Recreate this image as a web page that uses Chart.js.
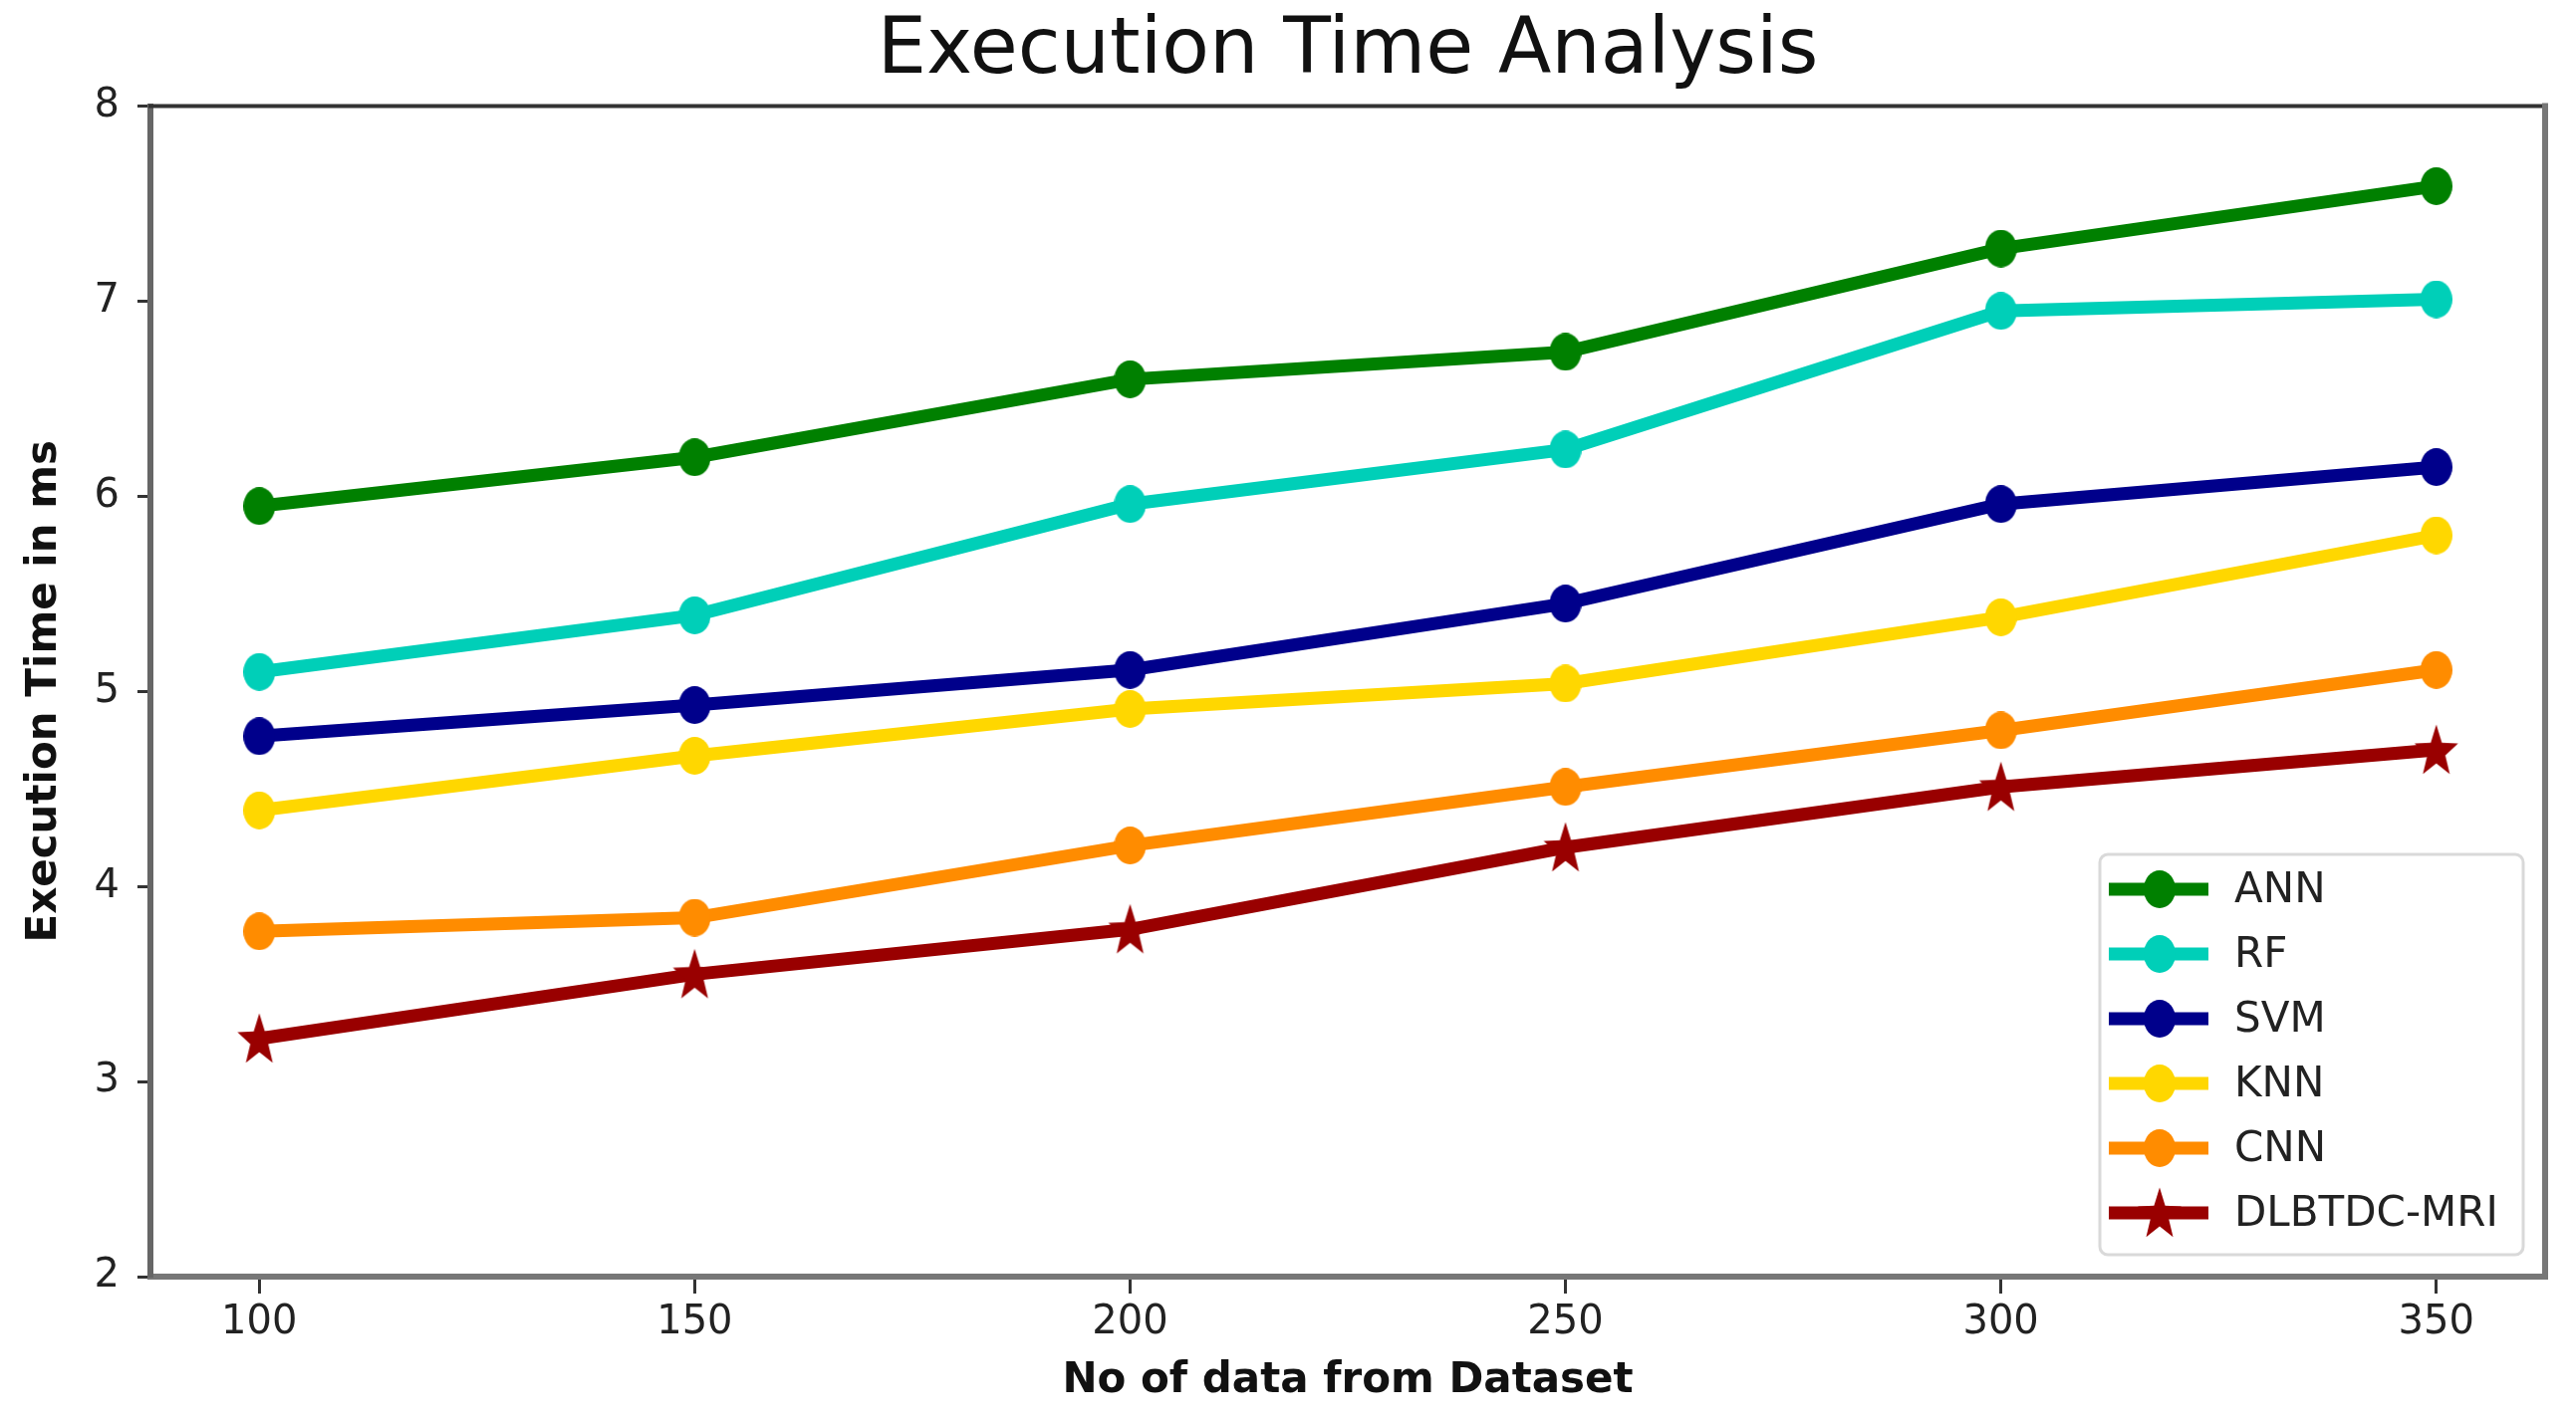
<!DOCTYPE html>
<html lang="en">
<head>
<meta charset="UTF-8">
<title>Execution Time Analysis</title>
<style>
    html, body { margin: 0; padding: 0; background: #fff; }
    #wrap { width: 2586px; height: 1429px; }
</style>
</head>
<body>
<div id="wrap"><canvas id="chart"></canvas></div>
<script src="https://cdn.jsdelivr.net/npm/chart.js"></script>
<script>
// data
const dataSizes = [100, 150, 200, 250, 300, 350];
const yTicks = [2, 3, 4, 5, 6, 7, 8];
const seriesNames = ['ANN', 'RF', 'SVM', 'KNN', 'CNN', 'DLBTDC-MRI'];
const annTimes = [5.95, 6.20, 6.60, 6.74, 7.27, 7.59];
const rfTimes = [5.10, 5.39, 5.96, 6.24, 6.95, 7.01];
const svmTimes = [4.77, 4.93, 5.11, 5.45, 5.96, 6.15];
const knnTimes = [4.39, 4.67, 4.91, 5.04, 5.38, 5.80];
const cnnTimes = [3.77, 3.84, 4.21, 4.51, 4.80, 5.11];
const dlbtdcTimes = [3.22, 3.55, 3.78, 4.20, 4.51, 4.70];
const seriesColors = ['#008000', '#00cfb8', '#00008b', '#ffd700', '#ff8c00', '#990000'];

const FONT = "'DejaVu Sans', sans-serif";

// marker images (reference markers are a little taller than wide)
function dotImage(color) {
    const c = document.createElement('canvas');
    c.width = 32; c.height = 38;
    const g = c.getContext('2d');
    g.fillStyle = color;
    g.beginPath();
    g.ellipse(16, 19, 16, 19, 0, 0, Math.PI * 2);
    g.fill();
    return c;
}
function starImage(color) {
    const c = document.createElement('canvas');
    c.width = 46; c.height = 56;
    const g = c.getContext('2d');
    g.fillStyle = color;
    g.beginPath();
    const R = 23, r = 9.5;
    for (let i = 0; i < 10; i++) {
        const rad = i % 2 === 0 ? R : r;
        const a = -Math.PI / 2 + i * Math.PI / 5;
        const px = 23 + rad * Math.cos(a);
        const py = 30 + rad * Math.sin(a) * 1.2;
        if (i === 0) g.moveTo(px, py); else g.lineTo(px, py);
    }
    g.closePath();
    g.fill();
    return c;
}

const allSeries = [annTimes, rfTimes, svmTimes, knnTimes, cnnTimes, dlbtdcTimes];
const markers = seriesColors.map((c, i) => i === 5 ? starImage(c) : dotImage(c));

const datasets = allSeries.map((vals, i) => ({
    label: seriesNames[i],
    data: dataSizes.map((x, j) => ({ x: x, y: vals[j] })),
    borderColor: seriesColors[i],
    backgroundColor: seriesColors[i],
    borderWidth: 13,
    pointStyle: markers[i],
    pointRadius: 18,
    tension: 0,
    order: 5 - i   // later series on top, like matplotlib
}));

// top/right spines + legend box inside the plot
const framePlugin = {
    id: 'frame',
    afterDraw(chart) {
        const { ctx, chartArea: a } = chart;
        ctx.save();
        ctx.lineCap = 'square';
        ctx.strokeStyle = '#333';
        ctx.lineWidth = 4;
        ctx.beginPath();
        ctx.moveTo(a.left, a.top);
        ctx.lineTo(a.right, a.top);
        ctx.stroke();
        ctx.strokeStyle = '#777';
        ctx.lineWidth = 6;
        ctx.beginPath();
        ctx.moveTo(a.right, a.top);
        ctx.lineTo(a.right, a.bottom);
        ctx.stroke();

        // legend
        const bw = 425, bh = 402;
        const bx = a.right - 22 - bw, by = a.bottom - 22 - bh;
        ctx.fillStyle = 'rgba(255,255,255,0.9)';
        ctx.strokeStyle = '#d9d9d9';
        ctx.lineWidth = 3;
        ctx.beginPath();
        ctx.roundRect(bx, by, bw, bh, 8);
        ctx.fill();
        ctx.stroke();

        ctx.font = '42px ' + FONT;
        ctx.textBaseline = 'middle';
        ctx.textAlign = 'left';
        seriesNames.forEach((name, i) => {
            const cy = by + 35 + i * 65;
            ctx.strokeStyle = seriesColors[i];
            ctx.lineWidth = 13;
            ctx.lineCap = 'butt';
            ctx.beginPath();
            ctx.moveTo(bx + 9, cy);
            ctx.lineTo(bx + 109, cy);
            ctx.stroke();
            const m = markers[i];
            ctx.drawImage(m, bx + 60 - m.width / 2, cy - m.height / 2);
            ctx.fillStyle = '#222';
            ctx.fillText(name, bx + 135, cy + 2);
        });
        ctx.restore();
    }
};

new Chart(document.getElementById('chart'), {
    type: 'line',
    data: { datasets: datasets },
    plugins: [framePlugin],
    options: {
        responsive: true,
        maintainAspectRatio: false,
        animation: false,
        layout: { padding: { left: 0, right: 31, top: 0, bottom: 0 } },
        plugins: {
            legend: { display: false },
            tooltip: { enabled: false },
            title: {
                display: true,
                fullSize: false,   // centre over the plot area
                text: 'Execution Time Analysis',
                color: '#111',
                font: { family: FONT, size: 78, weight: 'normal' },
                padding: { top: 6, bottom: 7 }
            }
        },
        scales: {
            x: {
                type: 'linear',
                min: 87.5,
                max: 362.5,
                afterBuildTicks: s => { s.ticks = dataSizes.map(v => ({ value: v })); },
                afterFit: s => { s.height = 147; },
                grid: { display: true, drawOnChartArea: false, drawTicks: true, tickLength: 17, tickWidth: 3, tickColor: '#333' },
                border: { display: true, color: '#777', width: 6 },
                ticks: { color: '#222', font: { family: FONT, size: 40 }, padding: 6, maxRotation: 0 },
                title: {
                    display: true,
                    text: 'No of data from Dataset',
                    color: '#111',
                    font: { family: FONT, size: 42, weight: 'bold' },
                    padding: { top: 0, bottom: 17 }
                }
            },
            y: {
                min: 2,
                max: 8,
                afterBuildTicks: s => { s.ticks = yTicks.map(v => ({ value: v })); },
                afterFit: s => { s.width = 151; },
                grid: { display: true, drawOnChartArea: false, drawTicks: true, tickLength: 13, tickWidth: 3, tickColor: '#333' },
                border: { display: true, color: '#666', width: 6 },
                ticks: { color: '#222', font: { family: FONT, size: 40 }, padding: 18 },
                title: {
                    display: true,
                    text: 'Execution Time in ms',
                    color: '#111',
                    font: { family: FONT, size: 42, weight: 'bold' },
                    padding: { top: 20, bottom: 0 }
                }
            }
        }
    }
});
</script>
</body>
</html>
